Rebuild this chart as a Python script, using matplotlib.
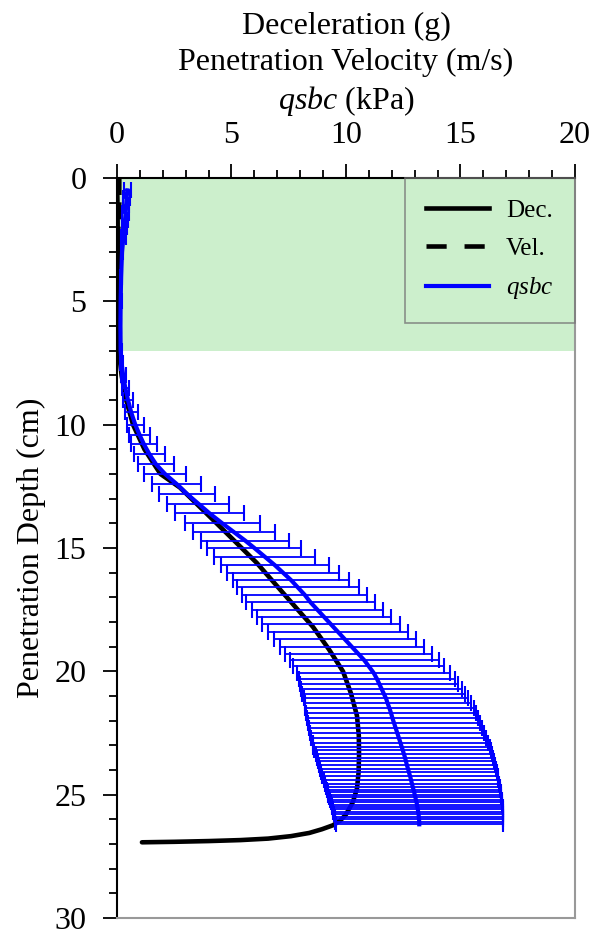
import matplotlib
matplotlib.use("Agg")
import matplotlib.pyplot as plt
import numpy as np
from matplotlib.lines import Line2D
from matplotlib.ticker import MultipleLocator

plt.rcParams["font.family"] = ["Liberation Serif", "DejaVu Serif"]
plt.rcParams["mathtext.fontset"] = "custom"
plt.rcParams["mathtext.rm"] = "Liberation Serif"
plt.rcParams["mathtext.it"] = "Liberation Serif:italic"

# deceleration (g) vs penetration depth (cm)
dec_depth = [0, 1, 2, 3, 4, 5, 6, 7, 8, 9, 10, 11, 12, 12.55, 13.5, 14.5, 15.6, 16.66,
             17.4, 18.2, 19.1, 20.0, 20.9, 21.8, 22.6, 23.4, 24.1, 24.75, 25.3, 25.8,
             26.05, 26.24, 26.4, 26.55, 26.68, 26.78, 26.84, 26.88, 26.91, 26.93]
dec_value = [0.0, 0.02, 0.03, 0.04, 0.05, 0.05, 0.06, 0.08, 0.2, 0.4, 0.7, 1.2, 1.9, 2.75,
             3.8, 4.9, 6.1, 7.1, 7.8, 8.56, 9.25, 9.87, 10.22, 10.48, 10.56, 10.57, 10.55,
             10.48, 10.3, 10.0, 9.75, 9.43, 8.95, 8.4, 7.6, 6.6, 5.4, 4.0, 2.5, 1.09]

# penetration velocity (m/s), hidden along the axis
vel_depth = [0, 0.5, 1.0, 1.5, 2.0, 2.2]
vel_value = [0.1, 0.1, 0.1, 0.08, 0.06, 0.05]

# qsbc (kPa): mean and error
q_depth = [0.5, 0.8, 1.1, 1.4, 1.7, 2.0, 2.4, 3.0, 4.0, 5.0, 6.0, 7.0, 7.5, 8.0, 8.5, 9.0,
           9.5, 10.0, 10.4, 10.8, 11.2, 11.6, 12.0, 12.4, 12.8, 13.2, 13.6, 14.0, 14.35,
           14.7, 15.0, 15.35, 15.7, 16.0, 16.3, 16.6, 16.9, 17.2, 17.5, 17.8, 18.1, 18.4,
           18.7, 19.0, 19.3, 19.55, 19.8, 20.05, 20.3, 20.5, 20.7, 20.9, 21.1, 21.3, 21.5,
           21.7, 21.9, 22.1, 22.3, 22.5, 22.7, 22.9, 23.05, 23.2, 23.35, 23.5, 23.65, 23.8,
           23.95, 24.1, 24.25, 24.4, 24.55, 24.7, 24.8, 24.9, 25.0, 25.1, 25.2, 25.3, 25.4,
           25.5, 25.6, 25.7, 25.8, 25.9, 26.0, 26.1, 26.2]
q_mean = [0.45, 0.42, 0.40, 0.38, 0.35, 0.32, 0.28, 0.22, 0.18, 0.16, 0.15, 0.16, 0.20,
          0.27, 0.36, 0.48, 0.62, 0.80, 0.98, 1.18, 1.42, 1.70, 2.10, 2.60, 3.05, 3.55,
          4.05, 4.60, 5.10, 5.60, 6.00, 6.45, 6.90, 7.25, 7.60, 7.90, 8.20, 8.45, 8.75,
          9.05, 9.35, 9.65, 9.95, 10.25, 10.55, 10.80, 11.00, 11.20, 11.35, 11.45, 11.55,
          11.65, 11.75, 11.82, 11.90, 11.97, 12.03, 12.10, 12.17, 12.24, 12.31, 12.38,
          12.43, 12.48, 12.53, 12.58, 12.62, 12.66, 12.71, 12.75, 12.80, 12.84, 12.88,
          12.92, 12.95, 12.98, 13.00, 13.03, 13.05, 13.08, 13.10, 13.12, 13.14, 13.15,
          13.17, 13.18, 13.19, 13.20, 13.20]
q_err = [0.15, 0.15, 0.14, 0.14, 0.13, 0.12, 0.10, 0.06, 0.05, 0.04, 0.04, 0.05, 0.08,
         0.11, 0.16, 0.22, 0.29, 0.37, 0.45, 0.55, 0.66, 0.78, 0.92, 1.08, 1.22, 1.36,
         1.50, 1.65, 1.80, 1.93, 2.05, 2.20, 2.35, 2.45, 2.55, 2.65, 2.73, 2.80, 2.87,
         2.93, 3.00, 3.05, 3.10, 3.15, 3.20, 3.25, 3.30, 3.35, 3.40, 3.45, 3.50, 3.55,
         3.60, 3.63, 3.67, 3.70, 3.73, 3.76, 3.78, 3.80, 3.82, 3.84, 3.85, 3.86, 3.86,
         3.86, 3.86, 3.85, 3.85, 3.84, 3.83, 3.82, 3.81, 3.80, 3.79, 3.78, 3.77, 3.76,
         3.75, 3.74, 3.73, 3.72, 3.71, 3.70, 3.69, 3.68, 3.67, 3.66, 3.65]

soft_layer = (0, 7)

fig = plt.figure(figsize=(5.93, 9.36), dpi=100)
ax = fig.add_axes([0.1973, 0.0192, 0.7723, 0.7906])

ax.axhspan(*soft_layer, color="#ccefcc", zorder=0, lw=0)
ax.plot(dec_value, dec_depth, color="black", lw=3.3, zorder=2, solid_capstyle="round")
ax.plot(vel_value, vel_depth, color="black", lw=3.3, ls="--", zorder=2)
ax.errorbar(q_mean, q_depth, xerr=q_err, fmt="none", ecolor="#0000ff", elinewidth=1.3,
            capsize=5.5, capthick=1.5, zorder=3)
ax.plot(q_mean, q_depth, color="#0000ff", lw=3.0, zorder=4)

ax.set_xlim(0, 20)
ax.set_ylim(30, 0)
ax.xaxis.tick_top()
ax.xaxis.set_label_position("top")
ax.xaxis.set_major_locator(MultipleLocator(5))
ax.xaxis.set_minor_locator(MultipleLocator(1))
ax.yaxis.set_major_locator(MultipleLocator(5))
ax.yaxis.set_minor_locator(MultipleLocator(1))
ax.tick_params(which="both", direction="out", width=1.3, labelsize=23)
ax.tick_params(which="major", length=10)
ax.tick_params(which="minor", length=6)
ax.tick_params(axis="x", pad=10)
ax.tick_params(axis="y", pad=12)

for side in ("left", "top"):
    ax.spines[side].set_color("black")
    ax.spines[side].set_linewidth(1.5)
for side in ("right", "bottom"):
    ax.spines[side].set_color("#999999")
    ax.spines[side].set_linewidth(1.5)

ax.set_xlabel("Deceleration (g)\nPenetration Velocity (m/s)\n$\\mathit{qsbc}$ (kPa)",
              fontsize=23, labelpad=9, linespacing=1.28)
ax.set_ylabel("Penetration Depth (cm)", fontsize=23, labelpad=6)

handles = [Line2D([], [], color="black", lw=3.3),
           Line2D([], [], color="black", lw=3.3, ls=(0, (4.4, 3.9))),
           Line2D([], [], color="#0000ff", lw=3.0)]
leg = ax.legend(handles, ["Dec.", "Vel.", "$\\mathit{qsbc}$"], loc="upper right",
                fontsize=18, frameon=True, fancybox=False, facecolor="none",
                edgecolor="#777777", borderaxespad=0, handlelength=2.5,
                labelspacing=0.62, borderpad=0.85, handletextpad=0.7)
leg.get_frame().set_linewidth(1.2)

fig.savefig("out.png", dpi=100)
